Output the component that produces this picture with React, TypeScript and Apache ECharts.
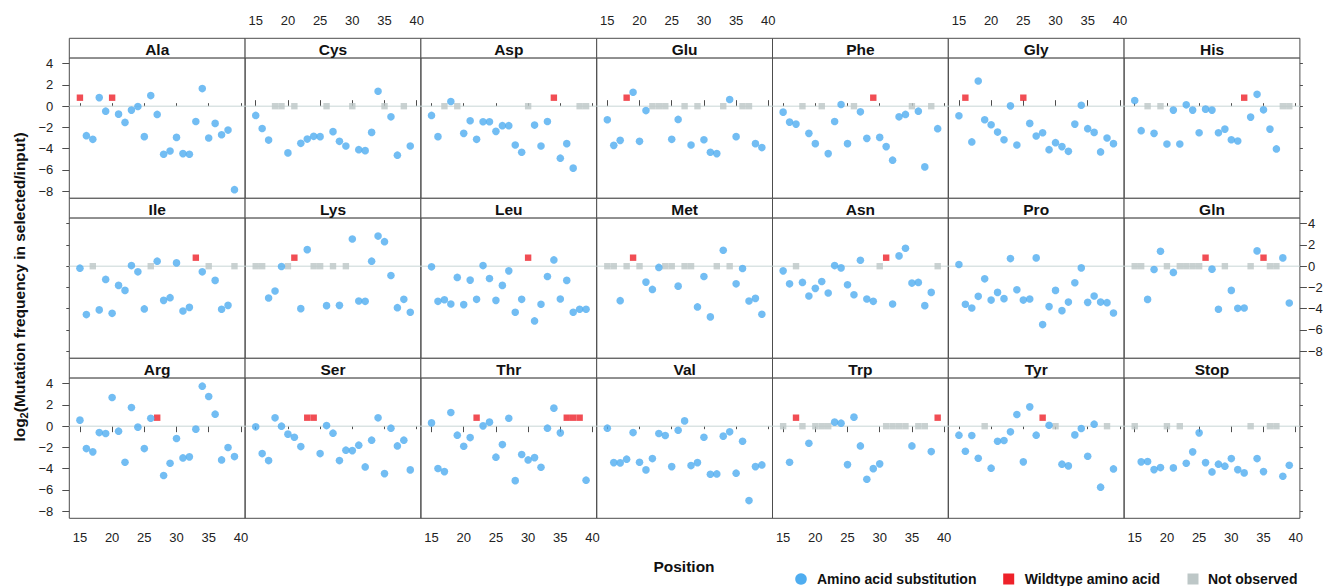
import React, { useEffect, useRef } from 'react';
import * as echarts from 'echarts';

const W = 'W'; // wildtype amino acid at this position
const N = 'N'; // not observed

const POSITIONS = [15, 16, 17, 18, 19, 20, 21, 22, 23, 24, 25, 26, 27, 28, 29, 30, 31, 32, 33, 34, 35, 36, 37, 38, 39];
const X_TICKS = [15, 20, 25, 30, 35, 40];
const Y_TICKS = [-8, -6, -4, -2, 0, 2, 4];
const WILDTYPE_LEVEL = 0.8;
const NOT_OBSERVED_LEVEL = 0;

const AMINO_ACIDS = ['Ala', 'Cys', 'Asp', 'Glu', 'Phe', 'Gly', 'His', 'Ile', 'Lys', 'Leu', 'Met', 'Asn', 'Pro', 'Gln', 'Arg', 'Ser', 'Thr', 'Val', 'Trp', 'Tyr', 'Stop'];

const ala = [W, -2.78, -3.12, 0.81, -0.47, W, -0.75, -1.53, -0.37, -0.03, -2.87, 1.0, -0.78, -4.53, -4.22, -2.94, -4.47, -4.53, -1.44, 1.66, -3.0, -1.62, -2.69, -2.25, -7.87];
const cys = [-0.87, -2.1, -3.19, N, N, -4.4, N, -3.5, -3.1, -2.84, -2.87, N, -2.4, -3.31, -3.75, N, -4.1, -4.19, -2.47, 1.41, N, -1.0, -4.62, N, -3.75];
const asp = [-0.87, -2.87, N, 0.44, N, -2.56, -1.37, -3.12, -1.47, -1.47, -2.37, -1.84, -1.84, -3.66, -4.34, N, -1.78, -3.75, -1.44, W, -4.9, -3.53, -5.84, N, N];
const glu = [-1.28, -3.69, -3.22, W, 1.31, -3.31, -0.41, N, N, N, -3.12, -1.25, N, -3.66, N, -3.16, -4.34, -4.47, N, 0.63, -2.87, N, N, -3.53, -3.9];
const phe = [-0.56, -1.5, -1.69, N, -2.56, -3.53, N, -4.47, -1.44, 0.16, -3.53, N, -0.53, -3.03, W, -2.94, -3.81, -5.09, -1.0, -0.78, N, -0.47, -5.72, N, -2.12];
const gly = [-0.9, W, -3.37, 2.37, -1.28, -1.75, -2.44, -3.16, 0.03, -3.66, W, -1.62, -2.81, -2.5, -4.1, -3.44, -3.81, -4.25, -1.69, 0.09, -2.12, -2.47, -4.31, -3.0, -3.53];
const his = [0.53, -2.31, N, -2.56, N, -3.56, -0.37, -3.56, 0.13, -0.37, -2.5, -0.28, -0.37, -2.5, -2.16, -3.16, -3.28, W, -1.03, 1.12, -0.34, -2.16, -4.03, N, N];
const ile = [-0.19, -4.56, N, -4.12, -1.25, -4.44, -1.81, -2.28, 0.06, -0.53, -4.03, N, 0.47, -3.22, -2.97, 0.31, -4.22, -3.88, W, -0.53, N, -1.34, -4.06, -3.69, N];
const lys = [N, N, -3.0, -2.34, -0.03, N, W, -4.0, 1.56, N, N, -3.72, N, -3.69, N, 2.56, -3.28, -3.31, 0.47, 2.84, 2.31, -0.88, -3.91, -3.12, -4.34];
const leu = [-0.06, -3.31, -3.16, -3.56, -1.06, -3.62, -1.31, -3.12, 0.06, -1.16, -3.22, -1.81, -0.44, -4.34, -3.12, W, -5.16, -3.59, -0.97, 0.59, -3.09, -1.34, -4.34, -4.06, -4.06];
const met = [N, N, -3.25, N, W, N, -1.5, -2.19, -0.12, N, N, -1.88, N, N, -3.84, -0.97, -4.78, N, 1.5, N, -1.66, -0.22, -3.28, -3.03, -4.53];
const asn = [-0.44, -1.66, N, -1.53, -2.81, -2.09, -1.44, -2.53, 0.06, -0.16, -1.75, -2.69, 0.56, -3.09, -3.31, N, W, -3.56, 0.97, 1.69, -1.59, -1.53, -3.72, -2.47, N];
const pro = [0.16, -3.59, -3.94, -2.84, -1.19, -3.19, -2.47, -3.06, 0.72, -2.22, -3.19, -3.09, 0.78, -5.5, -3.81, -2.28, -4.19, -3.38, -1.56, -0.16, -3.41, -2.81, -3.38, -3.44, -4.41];
const gln = [N, N, -3.13, -0.31, 1.41, N, -0.59, N, N, N, N, W, -0.28, -4.06, N, -2.28, -3.97, -3.94, N, 1.44, W, N, N, 0.78, -3.47];
const arg = [0.57, -2.11, -2.42, -0.6, -0.69, 2.7, -0.47, -3.4, 1.76, -0.09, -2.11, 0.75, W, -4.65, -3.49, -1.16, -2.99, -2.89, -0.28, 3.77, 2.8, 1.13, -3.18, -2.01, -2.86];
const ser = [-0.06, -2.58, -3.24, 0.79, 0, -0.75, -1.04, -1.92, W, W, -2.58, 0.06, -0.66, -3.24, -2.26, -2.3, -1.79, -3.84, -1.32, 0.79, -4.47, -0.19, -1.86, -1.32, -4.12];
const thr = [0.31, -3.99, -4.28, 1.29, -0.85, -1.89, -1.07, W, 0.03, 0.38, -2.92, -1.73, 0.75, -5.13, -2.67, -3.18, -2.96, -3.87, -0.19, 1.7, -0.63, W, W, W, -5.09];
const val = [-0.19, -3.43, -3.46, -3.11, -0.6, -3.4, -4.12, -3.05, -0.69, -0.88, -3.81, -0.38, 0.5, -3.71, -3.43, -1.04, -4.53, -4.5, -0.94, -0.53, -4.43, -1.42, -7.01, -3.81, -3.65];
const trp = [N, -3.4, W, N, -1.61, N, N, N, 0.38, 0.28, -3.62, 0.85, -1.86, -5.0, -4.0, -3.55, N, N, N, N, -1.86, N, N, -2.39, W];
const tyr = [-0.85, -2.36, -0.88, -3.02, N, -3.96, -1.42, -1.35, -0.53, 1.1, -3.36, 1.82, -0.85, W, 0.09, N, -3.58, -3.74, -0.82, -0.22, -2.83, 0.19, -5.75, N, -4.03];
const stop = [N, -3.36, -3.33, -4.09, -3.9, N, -3.93, N, -3.49, -2.42, -0.63, -3.43, -4.31, -3.58, -3.77, -3.05, -4.09, -4.4, N, -3.05, -4.28, N, N, -4.72, -3.68];

const PANEL_VALUES = [ala, cys, asp, glu, phe, gly, his, ile, lys, leu, met, asn, pro, gln, arg, ser, thr, val, trp, tyr, stop];

const LEGEND_LABELS = ['Amino acid substitution', 'Wildtype amino acid', 'Not observed'];
const X_TITLE = 'Position';

// layout
const FONT = "'Liberation Sans', Arial, Helvetica, sans-serif";
const COLS = 7;
const COL_LEFT = 69.3;
const COL_W = 175.8;
const ROW_TOP = 38.3;
const ROW_STEP = 160;
const STRIP_H = 19.6;
const PLOT_H = 140.4;
const X_MIN = 13.35;
const X_MAX = 40.65;
const Y_MIN = -8.68;
const Y_MAX = 4.55;
const LINE = '#4d4d4d';
const BLUE = '#4fadf0';
const RED = '#ee2129';
const GREY = '#bdc7c7';
const ZERO = '#c9d6d6';

const fmt = (v: number) => (v < 0 ? '\u2212' + Math.abs(v) : String(v));

export default function App() {
  const ref = useRef<HTMLDivElement>(null);
  useEffect(() => {
    if (!ref.current) return;
    const chart = echarts.init(ref.current, null, { renderer: 'svg' });
    const grids: any[] = [];
    const xAxes: any[] = [];
    const yAxes: any[] = [];
    const series: any[] = [];
    const graphics: any[] = [];

    AMINO_ACIDS.forEach((name, i) => {
      const r = Math.floor(i / COLS);
      const c = i % COLS;
      const left = COL_LEFT + c * COL_W;
      const stripTop = ROW_TOP + r * ROW_STEP;
      const top = stripTop + STRIP_H;
      grids.push({
        left, top, width: COL_W, height: PLOT_H,
        show: true, borderColor: LINE, borderWidth: 1, backgroundColor: 'transparent',
      });
      const xLabeled = (r === 0 && c % 2 === 1) || (r === 2 && c % 2 === 0);
      xAxes.push({
        type: 'value', gridIndex: i, min: X_MIN, max: X_MAX,
        position: r === 0 ? 'top' : 'bottom',
        offset: r === 0 ? STRIP_H : 0,
        show: r !== 1,
        axisLine: { show: false },
        splitLine: { show: false },
        axisTick: { show: true, customValues: X_TICKS, length: xLabeled ? 6 : 3, lineStyle: { color: LINE, width: 1 } },
        axisLabel: { show: xLabeled, customValues: X_TICKS, margin: r === 0 ? 11 : 13, fontSize: 13, color: '#222', fontFamily: FONT },
      });
      const yLabeled = (c === 0 && r !== 1) || (c === 6 && r === 1);
      yAxes.push({
        type: 'value', gridIndex: i, min: Y_MIN, max: Y_MAX,
        position: c === 0 ? 'left' : 'right',
        show: c === 0 || c === 6,
        axisLine: { show: false },
        splitLine: { show: false },
        axisTick: { show: true, customValues: Y_TICKS, length: yLabeled ? 7 : 3, lineStyle: { color: LINE, width: 1 } },
        axisLabel: { show: yLabeled, customValues: Y_TICKS, formatter: fmt, margin: c === 0 ? 16 : 8, fontSize: 13, color: '#222', fontFamily: FONT },
      });
      const vals = PANEL_VALUES[i];
      series.push({
        type: 'line', xAxisIndex: i, yAxisIndex: i, silent: true, symbol: 'none', z: 1,
        data: [[X_MIN, 0], [X_MAX, 0]], lineStyle: { color: ZERO, width: 1 },
      });
      series.push({
        name: LEGEND_LABELS[2], type: 'scatter', xAxisIndex: i, yAxisIndex: i, symbol: 'rect', symbolSize: 6.4, z: 2,
        itemStyle: { color: GREY },
        data: POSITIONS.map((p, k) => (vals[k] === N ? [p, NOT_OBSERVED_LEVEL] : null)).filter(Boolean),
      });
      series.push({
        name: LEGEND_LABELS[1], type: 'scatter', xAxisIndex: i, yAxisIndex: i, symbol: 'rect', symbolSize: 6.4, z: 3,
        itemStyle: { color: RED },
        data: POSITIONS.map((p, k) => (vals[k] === W ? [p, WILDTYPE_LEVEL] : null)).filter(Boolean),
      });
      series.push({
        name: LEGEND_LABELS[0], type: 'scatter', xAxisIndex: i, yAxisIndex: i, symbol: 'circle', symbolSize: 7.6, z: 4,
        itemStyle: { color: BLUE },
        data: POSITIONS.map((p, k) => (typeof vals[k] === 'number' ? [p, vals[k]] : null)).filter(Boolean),
      });
      graphics.push({
        type: 'rect', shape: { x: left, y: stripTop, width: COL_W, height: STRIP_H },
        style: { fill: '#fff', stroke: LINE, lineWidth: 1 }, z: 10,
      });
      graphics.push({
        type: 'text', x: left + COL_W / 2, y: stripTop + STRIP_H / 2 + 1, z: 11,
        style: { text: name, fontSize: 15.5, fontWeight: 'bold', fontFamily: FONT, fill: '#111', align: 'center', verticalAlign: 'middle' },
      });
    });

    graphics.push({
      type: 'text', x: 684, y: 566,
      style: { text: X_TITLE, fontSize: 15.5, fontWeight: 'bold', fontFamily: FONT, fill: '#111', align: 'center', verticalAlign: 'middle' },
    });
    graphics.push({
      type: 'text', x: 19, y: 287, rotation: Math.PI / 2,
      style: {
        text: '{a|log}{b|2}{a|(Mutation frequency in selected/input)}',
        align: 'center', verticalAlign: 'middle', fill: '#111',
        rich: {
          a: { fontSize: 15.5, fontWeight: 'bold', fontFamily: FONT, fill: '#111' },
          b: { fontSize: 11, fontWeight: 'bold', fontFamily: FONT, fill: '#111', padding: [9, 0, 0, 0] },
        },
      },
    });
    // legend
    graphics.push({ type: 'circle', shape: { cx: 801, cy: 579, r: 5.8 }, style: { fill: BLUE } });
    graphics.push({
      type: 'text', x: 817, y: 579,
      style: { text: LEGEND_LABELS[0], fontSize: 14, fontWeight: 'bold', fontFamily: FONT, fill: '#111', align: 'left', verticalAlign: 'middle' },
    });
    graphics.push({ type: 'rect', shape: { x: 1003.2, y: 573.5, width: 11, height: 11 }, style: { fill: RED } });
    graphics.push({
      type: 'text', x: 1024.7, y: 579,
      style: { text: LEGEND_LABELS[1], fontSize: 14, fontWeight: 'bold', fontFamily: FONT, fill: '#111', align: 'left', verticalAlign: 'middle' },
    });
    graphics.push({ type: 'rect', shape: { x: 1187.5, y: 573.5, width: 11, height: 11 }, style: { fill: GREY } });
    graphics.push({
      type: 'text', x: 1208, y: 579,
      style: { text: LEGEND_LABELS[2], fontSize: 14, fontWeight: 'bold', fontFamily: FONT, fill: '#111', align: 'left', verticalAlign: 'middle' },
    });

    chart.setOption({
      animation: false,
      backgroundColor: '#fff',
      textStyle: { fontFamily: FONT },
      grid: grids,
      xAxis: xAxes,
      yAxis: yAxes,
      series,
      graphic: graphics,
    });
    return () => chart.dispose();
  }, []);
  return <div ref={ref} style={{ position: 'absolute', left: 0, top: 0, width: 1333, height: 586 }} />;
}
